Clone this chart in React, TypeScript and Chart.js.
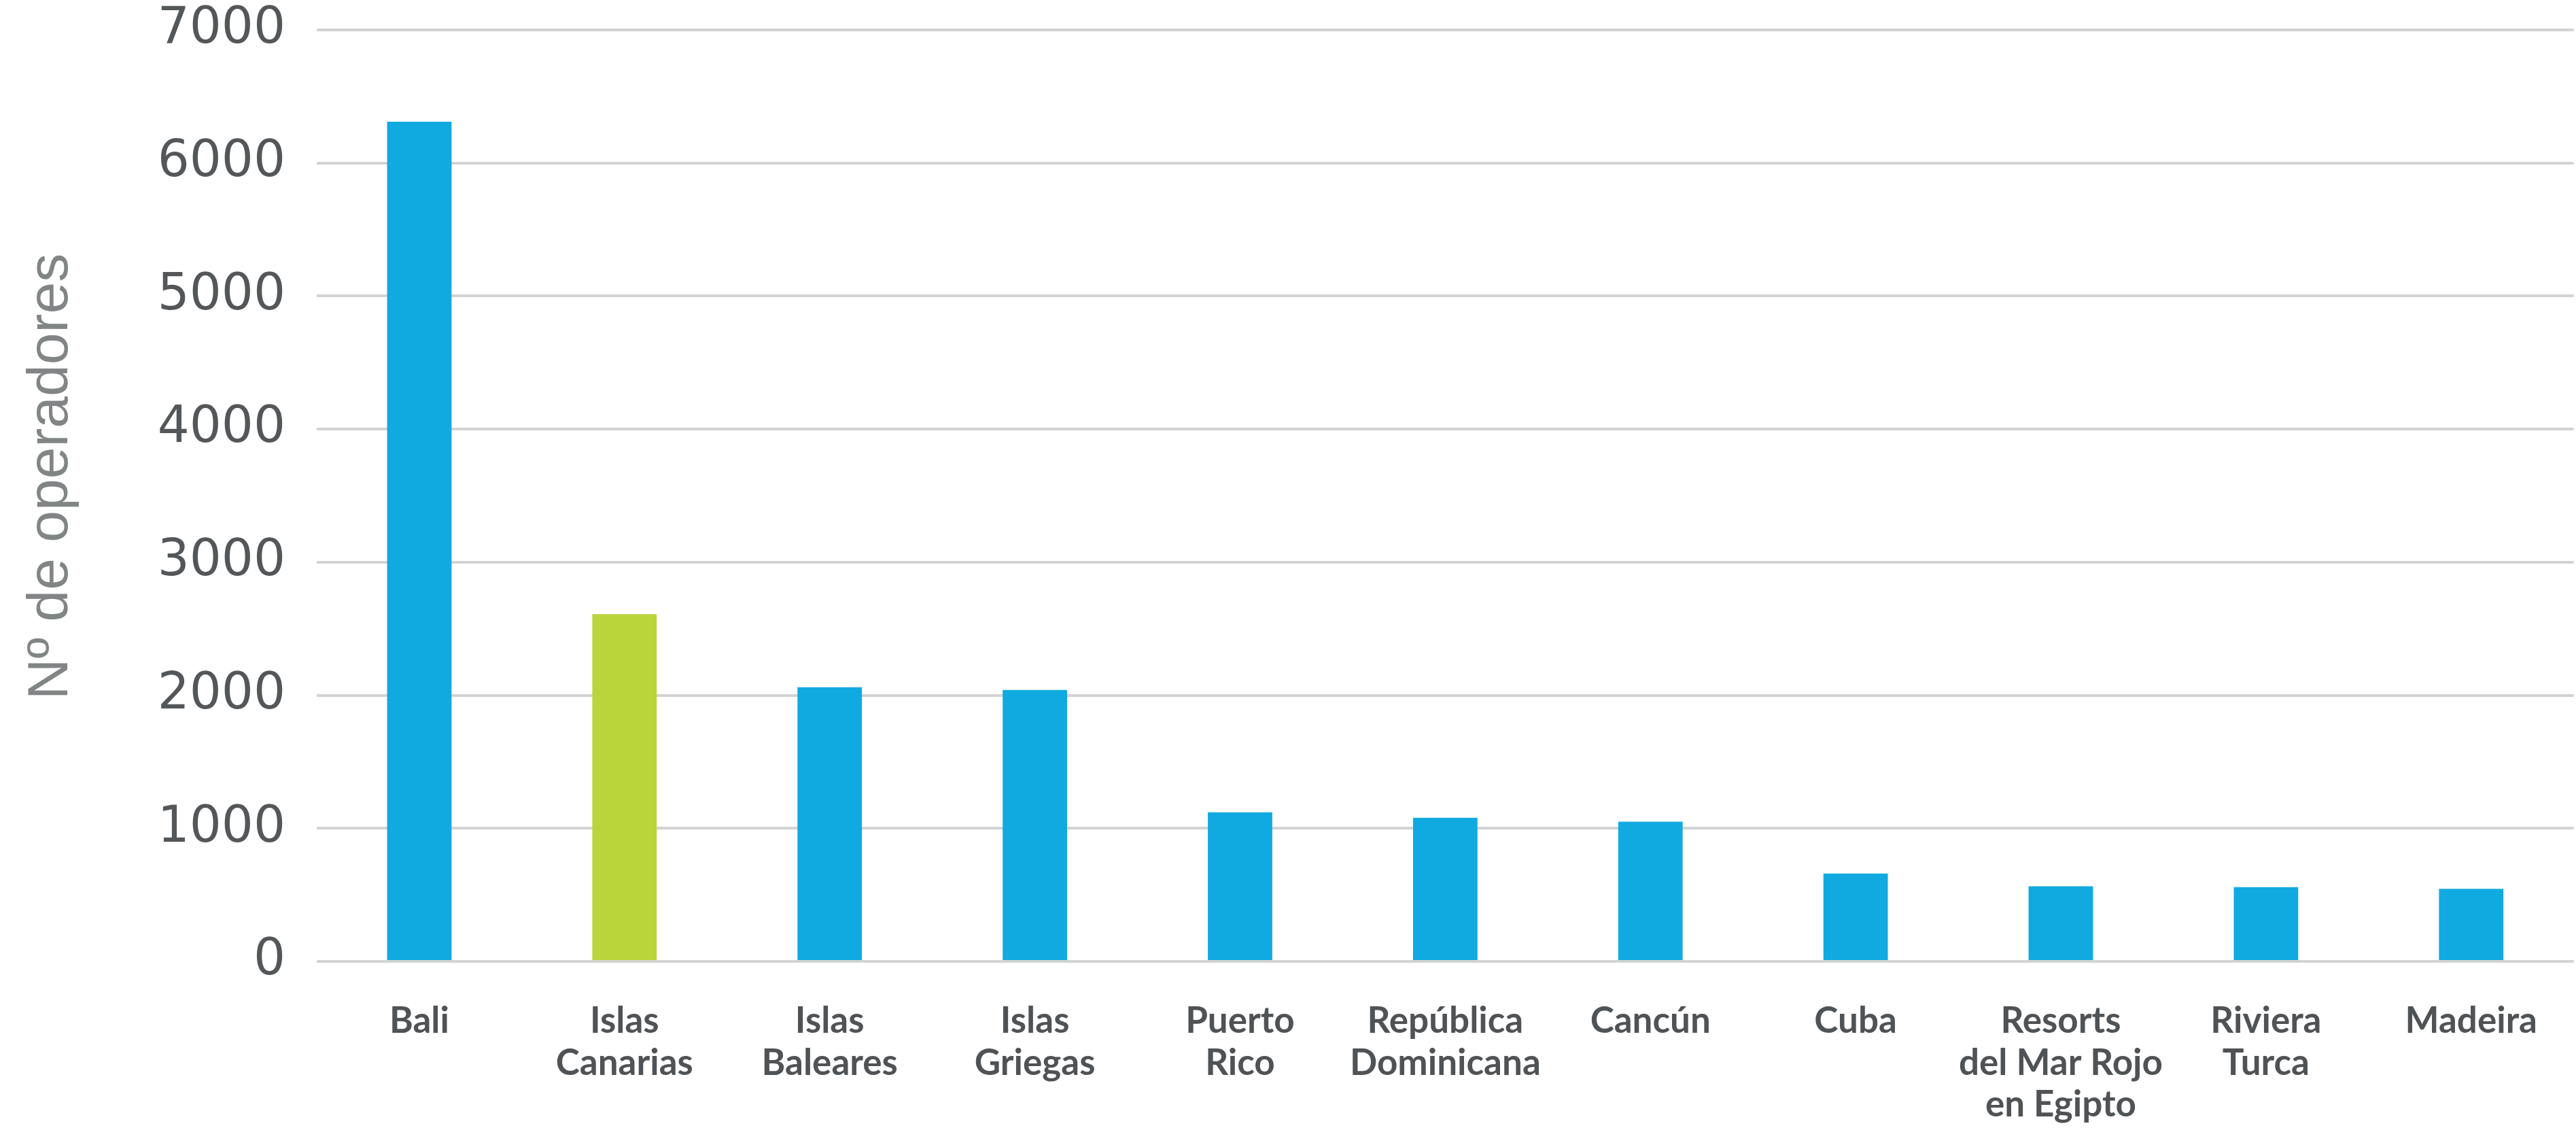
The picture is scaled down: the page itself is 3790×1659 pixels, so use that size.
import React, { useEffect, useRef } from "react";
import { Chart, registerables } from "chart.js";

Chart.register(...registerables);

const categories: string[][] = [
  ["Bali"],
  ["Islas", "Canarias"],
  ["Islas", "Baleares"],
  ["Islas", "Griegas"],
  ["Puerto", "Rico"],
  ["República", "Dominicana"],
  ["Cancún"],
  ["Cuba"],
  ["Resorts", "del Mar Rojo", "en Egipto"],
  ["Riviera", "Turca"],
  ["Madeira"],
];

const operadores: number[] = [6310, 2610, 2060, 2040, 1120, 1080, 1050, 660, 565, 558, 545];

const highlighted: string = "Islas Canarias";

const yTitle = "Nº de operadores";
const yMin = 0;
const yMax = 7000;
const yStep = 1000;

const BLUE = "#10aae1";
const GREEN = "#b9d53a";

const W = 3790;
const H = 1659;

const yTitlePlugin = {
  id: "yTitleDraw",
  afterDraw(chart: any) {
    const { ctx, chartArea } = chart;
    ctx.save();
    ctx.translate(76, (chartArea.top + chartArea.bottom) / 2 - 28);
    ctx.rotate(-Math.PI / 2);
    ctx.font = '84px "Liberation Sans"';
    ctx.fillStyle = "#818585";
    ctx.textAlign = "center";
    ctx.textBaseline = "middle";
    ctx.fillText(yTitle, 0, 0);
    ctx.restore();
  },
};

export default function App() {
  const ref = useRef<HTMLCanvasElement | null>(null);

  useEffect(() => {
    document.body.style.margin = "0";
    const canvas = ref.current;
    if (!canvas) return;
    const colors = categories.map((c) => (c.join(" ") === highlighted ? GREEN : BLUE));
    const chart = new Chart(canvas, {
      type: "bar",
      data: {
        labels: categories,
        datasets: [
          {
            data: operadores,
            backgroundColor: colors,
            borderWidth: 0,
            categoryPercentage: 1,
            barPercentage: 0.314,
          },
        ],
      },
      options: {
        animation: false,
        responsive: false,
        devicePixelRatio: 1,
        layout: { padding: { top: 44, right: -10, bottom: 0, left: 0 } },
        plugins: {
          legend: { display: false },
          tooltip: { enabled: false },
        },
        scales: {
          x: {
            grid: { display: false, drawTicks: false },
            border: { display: false },
            ticks: {
              autoSkip: false,
              maxRotation: 0,
              minRotation: 0,
              padding: 57,
              color: "#4f5356",
              font: { family: "Lato", weight: "bold", size: 53, lineHeight: 1.165 },
            },
            afterFit: (scale: any) => {
              scale.height = 245;
            },
          },
          y: {
            min: yMin,
            max: yMax,
            grid: { color: "#d3d3d3", lineWidth: 4, drawTicks: false },
            border: { display: false },
            ticks: {
              stepSize: yStep,
              padding: 46,
              color: "#53575a",
              font: { family: "DejaVu Sans", size: 74, lineHeight: 1.2 },
              callback: (v: any) => String(v),
            },
            afterFit: (scale: any) => {
              scale.width = 466;
              scale.paddingTop = 0;
              scale.paddingBottom = 0;
            },
          },
        },
      },
      plugins: [yTitlePlugin],
    });
    return () => chart.destroy();
  }, []);

  return (
    <div style={{ width: W, height: H, background: "#ffffff" }}>
      <canvas ref={ref} width={W} height={H} style={{ width: W, height: H, display: "block" }} />
    </div>
  );
}
